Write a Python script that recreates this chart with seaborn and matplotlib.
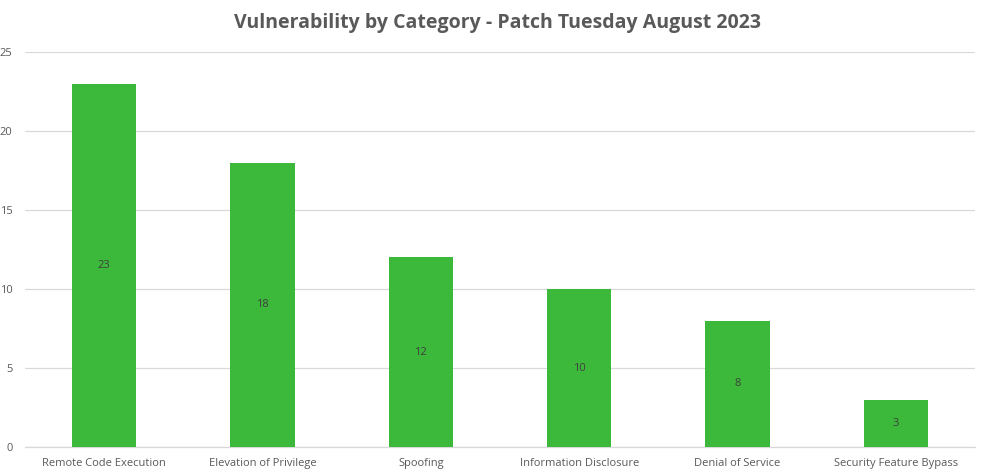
import matplotlib
matplotlib.use("Agg")
import matplotlib.pyplot as plt
import seaborn as sns
import pandas as pd

categories = ["Remote Code Execution", "Elevation of Privilege", "Spoofing",
              "Information Disclosure", "Denial of Service", "Security Feature Bypass"]
counts = [23, 18, 12, 10, 8, 3]
yticks = [0, 5, 10, 15, 20, 25]
title = "Vulnerability by Category - Patch Tuesday August 2023"

sns.set_style("white")
plt.rcParams['font.family'] = ['Open Sans', 'DejaVu Sans']

df = pd.DataFrame({"Category": categories, "Count": counts})

fig = plt.figure(figsize=(9.84, 4.73), dpi=100)
ax = fig.add_axes([25/984, 26/473, 950/984, 395/473])
sns.barplot(data=df, x="Category", y="Count", color="#3CB83A", saturation=1,
            width=0.405, ax=ax, zorder=3, linewidth=0)

ax.set_ylim(0, 25)
ax.set_xlim(-0.5, len(categories) - 0.5)
ax.set_yticks(yticks)
ax.set_yticklabels([str(v) for v in yticks], fontsize=8, color="#595959")
ax.tick_params(axis='y', length=0, pad=9)
ax.tick_params(axis='x', length=0, pad=8, labelsize=8, labelcolor="#595959")
ax.grid(axis='y', color="#d9d9d9", linewidth=0.9, zorder=0)
ax.set_xlabel("")
ax.set_ylabel("")
for s in ["top", "right", "left"]:
    ax.spines[s].set_visible(False)
ax.spines["bottom"].set_color("#d9d9d9")
ax.spines["bottom"].set_linewidth(0.9)

for cont in ax.containers:
    ax.bar_label(cont, label_type="center", fontsize=8, color="#404040")

fig.text(498/984, 1 - 23/473, title, ha="center", va="center", fontsize=14,
         fontweight="bold", color="#595959", family=["Open Sans", "DejaVu Sans"])

fig.savefig("out.png", dpi=100)
